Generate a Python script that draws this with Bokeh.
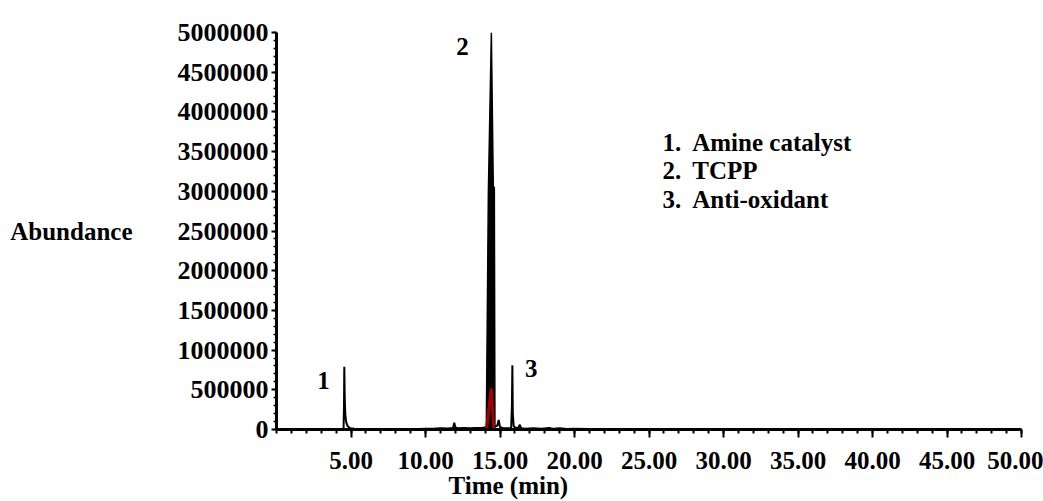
from bokeh.plotting import figure
from bokeh.models import FixedTicker, Label, Range1d, BasicTickFormatter
from bokeh.embed import file_html
from bokeh.resources import INLINE

nan = float("nan")

# Black trace: total ion chromatogram (time in min, abundance)
black_time = [0.0, 1.0, 2.0, 3.0, 4.0, 4.50, 4.53, 4.55, 4.58, 4.62, 4.68, 4.78, 4.95, 5.3,
              6.0, 7.0, 8.0, 9.0, 10.0, 10.5, 11.0, 11.5, 11.85, 11.93, 12.0, 12.2, 12.6,
              13.0, 13.4, 13.8, 14.05, 14.70, 14.82, 14.91, 15.0, 15.2, 15.5, 15.75, 15.80,
              15.83, 15.86, 15.92, 16.05, 16.25, 16.33, 16.42, 16.7, 17.2, 17.8, 18.3, 18.6,
              19.0, 19.5, 20.0, 21.0, 23.0, 26.0, 30.0, 35.0, 40.0, 45.0, 50.0]
black_abundance = [0, 0, 0, 0, 0, 0, 300000, 790000, 400000, 180000, 90000, 40000, 15000, 5000,
                   3000, 2000, 3000, 4000, 8000, 10000, 15000, 12000, 20000, 85000, 25000, 15000, 20000,
                   15000, 18000, 20000, 30000, 40000, 50000, 120000, 30000, 20000, 15000, 15000, 300000,
                   810000, 200000, 40000, 20000, 25000, 60000, 15000, 10000, 15000, 8000, 20000, 8000,
                   15000, 6000, 8000, 5000, 3000, 2000, 0, 0, 0, 0, 0]

# Dense main peak (TCPP) outline of the black trace
peak2_time = [14.08, 14.22, 14.42, 14.55, 14.62, 14.66]
peak2_abundance = [0, 3000000, 5000000, 3050000, 3050000, 0]

# Red trace (second sample)
red_time = [4.55, 5.0, 5.5, nan, 12.6, 12.75, nan, 14.09, 14.41, 14.58, nan, 15.85, 16.0, nan, 16.3, 16.45]
red_abundance = [0, 0, 0, nan, 0, 0, nan, 0, 518000, 0, nan, 0, 0, nan, 0, 0]

x_ticks = [5, 10, 15, 20, 25, 30, 35, 40, 45, 50]
x_tick_labels = ["5.00", "10.00", "15.00", "20.00", "25.00", "30.00", "35.00", "40.00", "45.00", "50.00"]
y_ticks = [0, 500000, 1000000, 1500000, 2000000, 2500000, 3000000, 3500000, 4000000, 4500000, 5000000]

peak_numbers = ["1", "2", "3"]
legend_numbers = ["1.", "2.", "3."]
legend_names = ["Amine catalyst", "TCPP", "Anti-oxidant"]

FONT = "Liberation Serif"
FS = "25px"

p = figure(width=1043, height=501, x_range=Range1d(0, 50), y_range=Range1d(0, 5000000),
           output_backend="svg", toolbar_location=None,
           min_border_left=276, min_border_right=22, min_border_top=32, min_border_bottom=72)
p.outline_line_color = None
p.grid.visible = False
p.background_fill_color = "white"
p.border_fill_color = "white"

p.line(black_time, black_abundance, line_color="black", line_width=2)
p.patch(peak2_time, peak2_abundance, fill_color="black", line_color="black", line_width=1.5)
p.line(red_time, red_abundance, line_color="#a30000", line_width=3)

# X axis
p.xaxis.ticker = FixedTicker(ticks=x_ticks, minor_ticks=list(range(0, 51)))
p.xaxis.major_label_overrides = {t: l for t, l in zip(x_ticks, x_tick_labels)}
p.xaxis.major_label_standoff = 14
p.xaxis.axis_label = "Time (min)" + "\u00a0" * 45
p.xaxis.axis_label_standoff = 0
p.xaxis.axis_label_text_line_height = 0.75
# Y axis
p.yaxis.ticker = FixedTicker(ticks=y_ticks, minor_ticks=[i * 100000 for i in range(51)])
p.yaxis.formatter = BasicTickFormatter(use_scientific=False)
p.yaxis.major_label_standoff = 3
p.yaxis.axis_label = "Abundance"
p.yaxis.axis_label_standoff = 42
try:
    p.yaxis.axis_label_orientation = "horizontal"
except AttributeError:
    pass

for ax in (p.xaxis[0], p.yaxis[0]):
    ax.axis_line_width = 3
    ax.axis_line_color = "black"
    ax.major_tick_line_width = 2
    ax.major_tick_line_color = "black"
    ax.major_tick_in = 0
    ax.minor_tick_in = 0
    ax.minor_tick_line_width = 2
    ax.minor_tick_line_color = "black"
    ax.major_label_text_font = FONT
    ax.major_label_text_font_style = "bold"
    ax.major_label_text_font_size = FS
    ax.major_label_text_color = "black"
    ax.axis_label_text_font = FONT
    ax.axis_label_text_font_style = "bold"
    ax.axis_label_text_font_size = FS
    ax.axis_label_text_color = "black"
p.yaxis.major_label_text_font_size = "26px"
p.yaxis.minor_tick_line_width = 1.5
p.xaxis.major_tick_out = 8
p.xaxis.minor_tick_out = 4
p.yaxis.major_tick_out = 5
p.yaxis.minor_tick_out = 3


def add_label(x, y, text, align="left"):
    p.add_layout(Label(x=x, y=y, text=text, text_font=FONT, text_font_style="bold",
                       text_font_size=FS, text_color="black", text_align=align,
                       text_baseline="middle"))


# Peak numbers
add_label(3.15, 618000, peak_numbers[0], align="center")
add_label(12.48, 4820000, peak_numbers[1], align="center")
add_label(17.1, 769000, peak_numbers[2], align="center")

# Legend text
legend_y = [3610000, 3260000, 2900000]
for n, name, yy in zip(legend_numbers, legend_names, legend_y):
    add_label(25.9, yy, n)
    add_label(27.9, yy, name)

open("out.html", "w").write(file_html(p, INLINE))
